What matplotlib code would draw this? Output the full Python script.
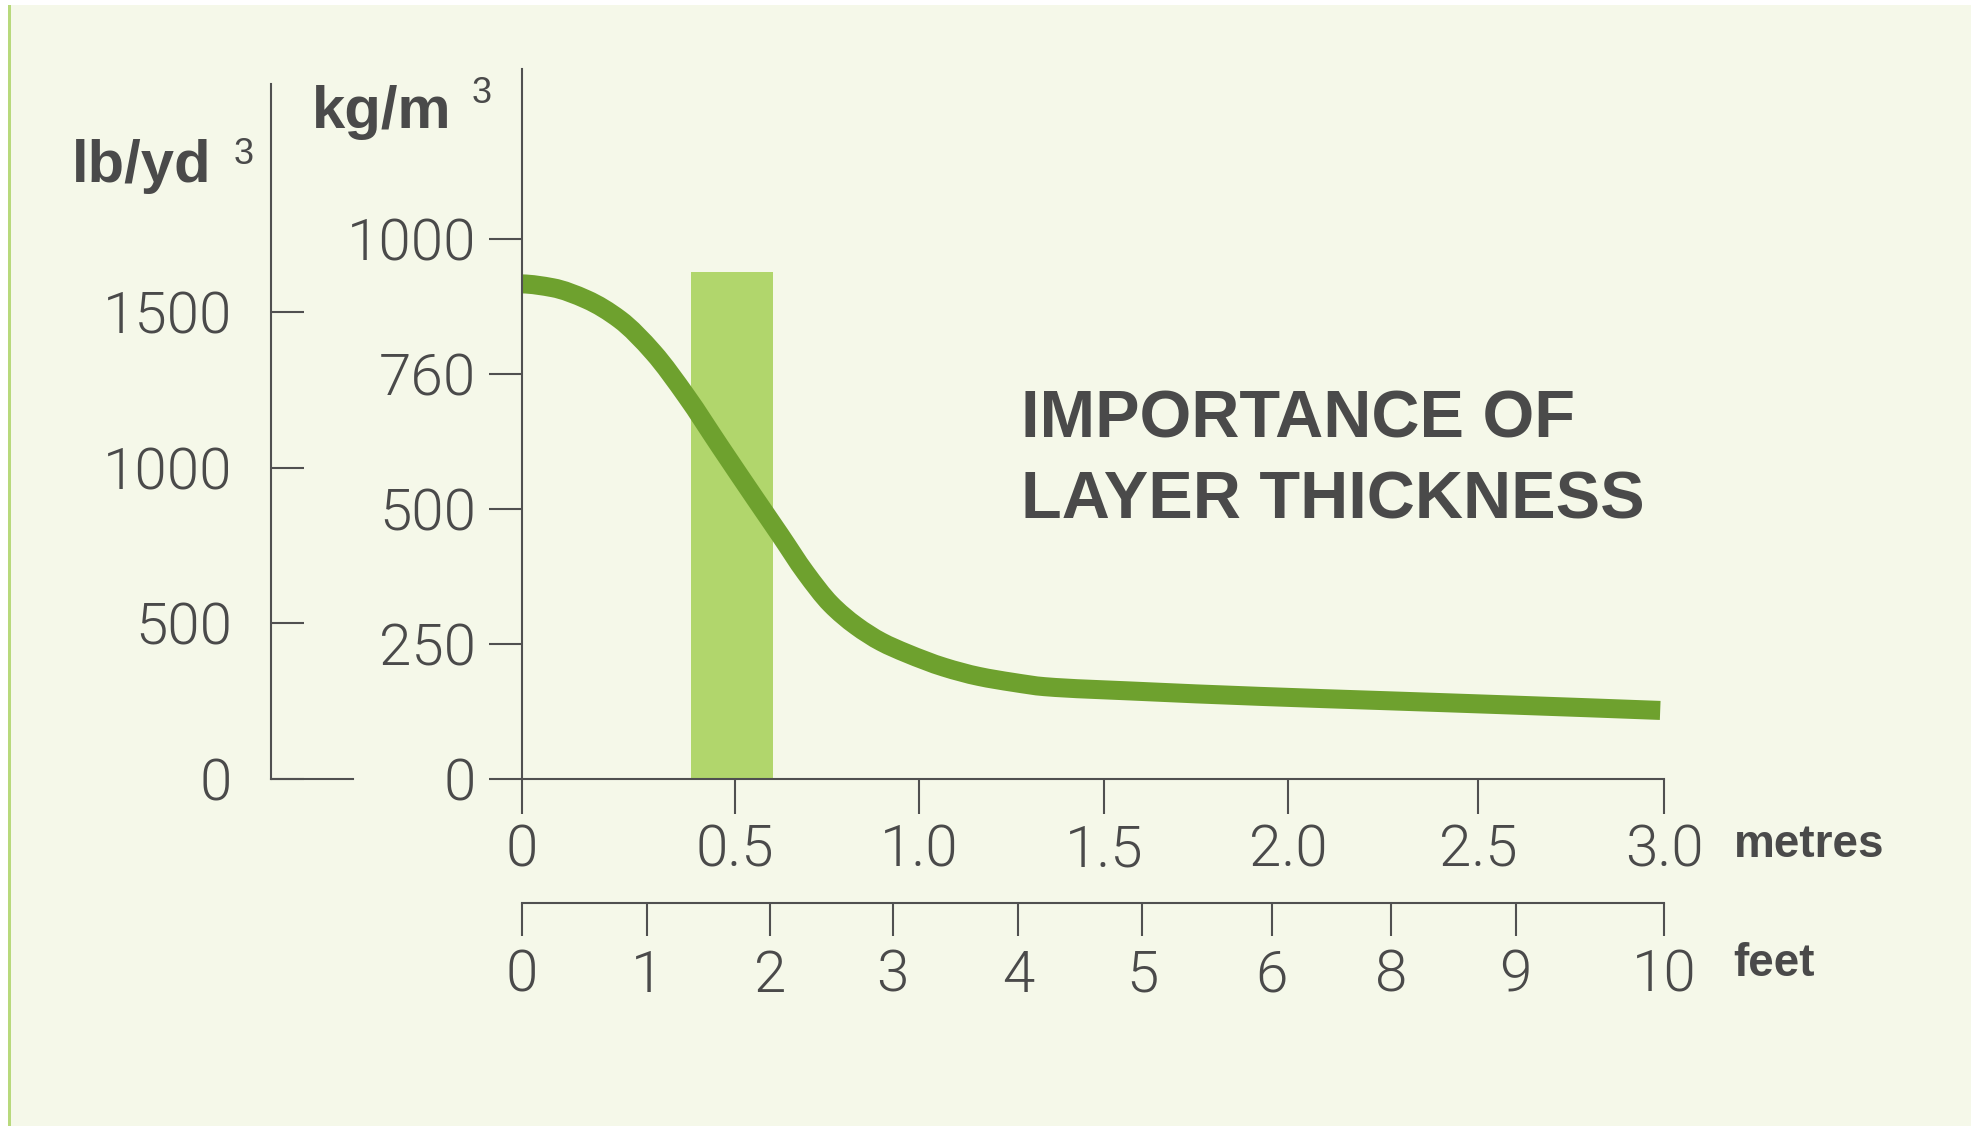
import matplotlib
matplotlib.use("Agg")
import numpy as np
import matplotlib.pyplot as plt
from matplotlib.patches import Rectangle, PathPatch
from matplotlib.path import Path

W, H = 1974, 1129

# curve: x in metres (axis units), density in kg/m3
depth_m = [0.0, 0.08, 0.17, 0.257, 0.345, 0.433, 0.52, 0.612, 0.678, 0.745,
           0.811, 0.877, 0.944, 1.01, 1.109, 1.2, 1.29, 1.373,
           1.6, 1.94, 2.27, 2.6, 2.99]
density = [917, 910, 888, 851, 790, 708, 616, 520, 452, 382,
           324, 284, 254, 233, 207, 190, 179, 171,
           163, 153, 145, 137, 127]

# highlighted band
band_left, band_right, band_top = 0.444, 0.659, 939

kg_ticks = [0, 250, 500, 750, 1000]
kg_labels = ["0", "250", "500", "760", "1000"]
lb_ticks = [0, 500, 1000, 1500]
lb_labels = ["0", "500", "1000", "1500"]
m_ticks = [0, 0.56, 1.043, 1.529, 2.012, 2.511, 3.0]
m_labels = ["0", "0.5", "1.0", "1.5", "2.0", "2.5", "3.0"]
ft_ticks = [0, 0.328, 0.651, 0.974, 1.303, 1.629, 1.970, 2.284, 2.610, 3.0]
ft_labels = ["0", "1", "2", "3", "4", "5", "6", "8", "9", "10"]

bg = "#F5F8E9"
curve_col = "#6EA12E"
band_col = "#B1D66C"
ink = "#4A4A4A"
line_col = "#505050"
tick_font = dict(family=["Roboto", "DejaVu Sans"], weight=300, size=42, color=ink)
bold_font = ["Liberation Sans", "DejaVu Sans"]


def fx(px):
    return px / W


def fy(py):
    return 1 - py / H


def smooth_path(xs, ys):
    # bezier path through the read points, pchip-style tangents
    x = np.asarray(xs, float)
    y = np.asarray(ys, float)
    h = np.diff(x)
    d = np.diff(y) / h
    m = np.zeros_like(x)
    for k in range(1, len(x) - 1):
        if d[k - 1] * d[k] > 0:
            w1 = 2 * h[k] + h[k - 1]
            w2 = h[k] + 2 * h[k - 1]
            m[k] = (w1 + w2) / (w1 / d[k - 1] + w2 / d[k])
    m[0] = ((2 * h[0] + h[1]) * d[0] - h[0] * d[1]) / (h[0] + h[1])
    m[-1] = ((2 * h[-1] + h[-2]) * d[-1] - h[-1] * d[-2]) / (h[-1] + h[-2])
    verts = [(x[0], y[0])]
    codes = [Path.MOVETO]
    for i in range(len(x) - 1):
        verts += [(x[i] + h[i] / 3, y[i] + m[i] * h[i] / 3),
                  (x[i + 1] - h[i] / 3, y[i + 1] - m[i + 1] * h[i] / 3),
                  (x[i + 1], y[i + 1])]
        codes += [Path.CURVE4] * 3
    return Path(verts, codes)


fig = plt.figure(figsize=(W / 100, H / 100), dpi=100)
fig.patch.set_facecolor("white")
fig.add_artist(Rectangle((fx(8), fy(1126)), fx(1963), (1126 - 5) / H,
                         transform=fig.transFigure, facecolor=bg, edgecolor="none", zorder=-10))
fig.add_artist(Rectangle((fx(8), fy(1126)), fx(3), (1126 - 5) / H,
                         transform=fig.transFigure, facecolor="#B8D97C", edgecolor="none", zorder=-9))


def style_axes(a):
    a.set_facecolor("none")
    for s in a.spines.values():
        s.set_color(line_col)
        s.set_linewidth(1.5)
    a.tick_params(width=1.5, color=line_col)
    for lab in a.get_xticklabels() + a.get_yticklabels():
        lab.set_fontfamily(tick_font["family"])
        lab.set_fontweight(tick_font["weight"])
        lab.set_fontsize(tick_font["size"])
        lab.set_color(tick_font["color"])


# main axes (metres / kg/m3)
ax = fig.add_axes([fx(522), fy(779), (1664 - 522) / W, (779 - 69) / H])
ax.set_xlim(0, 3)
ax.set_ylim(0, 1315)
ax.spines["top"].set_visible(False)
ax.spines["right"].set_visible(False)
ax.bar(band_left, band_top, width=band_right - band_left, align="edge",
       color=band_col, zorder=1)
ax.add_patch(PathPatch(smooth_path(depth_m, density), facecolor="none",
                       edgecolor=curve_col, lw=13.7, capstyle="butt",
                       joinstyle="round", zorder=2, clip_on=False))
ax.set_yticks(kg_ticks, kg_labels)
ax.set_xticks(m_ticks, m_labels)
ax.tick_params(axis="y", direction="out", length=24, pad=9)
ax.tick_params(axis="x", direction="out", length=25, pad=7)
style_axes(ax)

# lb/yd3 axis
ax_lb = fig.add_axes([fx(271), fy(779), (353 - 271) / W, (779 - 84) / H])
ax_lb.set_ylim(0, 2232)
ax_lb.set_xlim(0, 1)
ax_lb.spines["top"].set_visible(False)
ax_lb.spines["right"].set_visible(False)
ax_lb.set_xticks([])
ax_lb.set_yticks(lb_ticks, lb_labels)
ax_lb.tick_params(axis="y", direction="in", length=24, pad=28)
style_axes(ax_lb)

# feet axis
ax_ft = fig.add_axes([fx(522), fy(903), (1664 - 522) / W, 0.01])
ax_ft.set_xlim(0, 3)
for side in ["top", "right", "left"]:
    ax_ft.spines[side].set_visible(False)
ax_ft.set_yticks([])
ax_ft.set_xticks(ft_ticks, ft_labels)
ax_ft.tick_params(axis="x", direction="out", length=24, pad=9)
style_axes(ax_ft)

# unit labels
fig.text(fx(312), fy(128), "kg/m", fontsize=43, weight="bold", family=bold_font,
         color=ink, va="baseline", ha="left")
fig.text(fx(472), fy(103), "3", fontsize=26, family=bold_font, color=ink,
         va="baseline", ha="left")
fig.text(fx(72), fy(182), "lb/yd", fontsize=43, weight="bold", family=bold_font,
         color=ink, va="baseline", ha="left")
fig.text(fx(234), fy(164), "3", fontsize=26, family=bold_font, color=ink,
         va="baseline", ha="left")
fig.text(fx(1734), fy(857), "metres", fontsize=33, weight="bold", family=bold_font,
         color=ink, va="baseline", ha="left")
fig.text(fx(1733), fy(976), "feet", fontsize=33, weight="bold", family=bold_font,
         color=ink, va="baseline", ha="left")

# title
fig.text(fx(1021), fy(437), "IMPORTANCE OF", fontsize=48, weight="bold",
         family=bold_font, color=ink, va="baseline", ha="left")
fig.text(fx(1021), fy(518), "LAYER THICKNESS", fontsize=48, weight="bold",
         family=bold_font, color=ink, va="baseline", ha="left")

fig.savefig("out.png", dpi=100, facecolor=fig.get_facecolor())
